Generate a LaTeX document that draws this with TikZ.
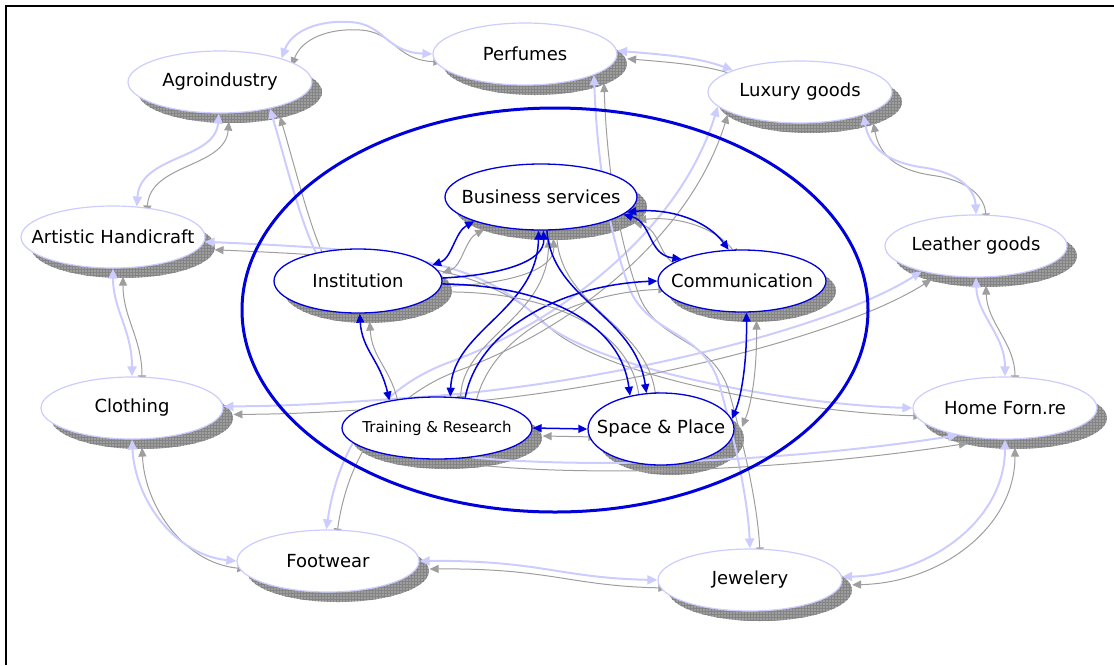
\documentclass[tikz,border=0pt]{standalone}
\usepackage{fontspec}
\setmainfont{DejaVu Sans}
\usetikzlibrary{shapes.geometric,arrows.meta,patterns}
\pgfdeclarelayer{background}
\pgfsetlayers{background,main}
\definecolor{lav}{RGB}{204,204,255}
\definecolor{bl}{RGB}{0,0,220}
\definecolor{shg}{RGB}{158,158,158}
\definecolor{grd}{RGB}{132,132,132}
% #1 node style, #2 text style, #3 name, #4 x, #5 y, #6 width, #7 height, #8 text
\newcommand\nd[8]{%
  \begin{pgfonlayer}{background}
    \fill[shfill] (#4+10,#5+10) ellipse [x radius={#6pt/2}, y radius={#7pt/2}];
  \end{pgfonlayer}
  \node[#1, minimum width=#6pt, minimum height=#7pt] (#3) at (#4,#5) {};
  \node[#2] (#3t) at (#3.center) {#8};}
% #1 extra options, #2 line style, #3 path
\newcommand\cn[3][]{%
  \draw[shln,#1,transform canvas={shift={(10pt,-8pt)}}] #3;
  \draw[#2,#1] #3;}
\begin{document}
\begin{tikzpicture}[x=1pt,y=-1pt,
  outer/.style={ellipse, draw=lav, line width=1.2pt, fill=white, inner sep=0pt},
  inner/.style={ellipse, draw=bl, line width=1.3pt, fill=white, inner sep=0pt},
  bigtxt/.style={font=\fontsize{18}{21}\selectfont, inner sep=0pt},
  smalltxt/.style={font=\fontsize{15}{18}\selectfont, inner sep=0pt},
  shfill/.style={fill=shg, postaction={pattern=grid, pattern color=grd}},
  shln/.style={draw=shg, line width=1pt, >={Triangle[length=9pt,width=8pt]}, <->},
  lavln/.style={draw=lav, line width=2pt, >={Triangle[length=10pt,width=9pt]}, <->},
  blln/.style={draw=bl, line width=1.5pt, >={Triangle[length=9pt,width=8pt]}, <->},
  bigell/.style={draw=bl, line width=3pt}]
\useasboundingbox (0,0) rectangle (1114,665);
\draw[line width=1.5pt] (6,665) -- (6,6) -- (1114,6);
\draw[bigell] (555,310) ellipse [x radius=313pt, y radius=202pt];
% outer nodes
\nd{outer}{bigtxt}{agro}{220}{82}{184}{62}{Agroindustry}
\nd{outer}{bigtxt}{perf}{525}{54}{184}{62}{Perfumes}
\nd{outer}{bigtxt}{lux}{800}{92}{184}{62}{Luxury goods}
\nd{outer}{bigtxt}{leath}{976}{246}{182}{62}{Leather goods}
\nd{outer}{bigtxt}{home}{1005}{408}{184}{62}{Home Forn.re}
\nd{outer}{bigtxt}{jew}{750}{580}{184}{62}{Jewelery}
\nd{outer}{bigtxt}{foot}{328}{561}{182}{62}{Footwear}
\nd{outer}{bigtxt}{cloth}{132}{408}{182}{62}{Clothing}
\nd{outer}{bigtxt}{art}{113}{237}{184}{62}{Artistic Handicraft}
% inner nodes
\nd{inner}{bigtxt}{bs}{541}{197}{192}{66}{Business services}
\nd{inner}{bigtxt}{inst}{358}{281}{168}{64}{Institution}
\nd{inner}{bigtxt}{comm}{742}{281}{168}{62}{Communication}
\nd{inner}{smalltxt}{tr}{437}{428}{190}{62}{Training \& Research}
\nd{inner}{bigtxt}{sp}{661}{429}{146}{72}{Space \& Place}
\begin{pgfonlayer}{background}
% ring
\cn{lavln}{(agro.21) .. controls (292,30) and (320,20) .. (350,22) .. controls (385,24) and (385,52) .. (perf.180)}
\cn{lavln}{(perf.2) .. controls (670,55) and (700,58) .. (lux.162)}
\cn{lavln}{(lux.-20) .. controls (870,150) and (890,162) .. (920,167) .. controls (960,172) and (975,190) .. (leath.90)}
\cn{lavln}{(leath.-90) .. controls (977,315) and (1005,335) .. (home.90)}
\cn{lavln}{(home.-90) .. controls (1005,520) and (930,575) .. (jew.2)}
\cn{lavln}{(jew.180) .. controls (560,578) and (540,560) .. (foot.0)}
\cn{lavln}{(cloth.-90) .. controls (135,500) and (175,555) .. (foot.180)}
\cn{lavln}{(art.-90) .. controls (113,310) and (132,330) .. (cloth.90)}
\cn{lavln}{(agro.-92) .. controls (215,160) and (140,155) .. (art.52)}
% spokes
\cn[<-]{lavln}{(agro.-28) .. controls (288,170) and (300,220) .. (inst.146)}
\cn{lavln}{(art.-3) .. controls (400,250) and (480,260) .. (540,320) .. controls (600,372) and (800,405) .. (home.180)}
\cn{lavln}{(cloth.1) .. controls (300,406) and (350,402) .. (420,397) .. controls (600,385) and (830,330) .. (leath.205)}
\cn{lavln}{(foot.93) .. controls (335,470) and (360,395) .. (450,362) .. controls (560,322) and (680,230) .. (lux.190)}
\cn{lavln}{(perf.-17) .. controls (597,160) and (608,230) .. (630,290) .. controls (650,335) and (700,330) .. (718,380) .. controls (735,440) and (748,500) .. (jew.90)}
\cn[->]{lavln}{(tr.-40) .. controls (600,470) and (800,460) .. (home.210)}
% blue
\cn{blln}{(bs.-10) .. controls (665,208) and (705,218) .. (comm.113)}
\cn{blln}{(bs.-12) .. controls (652,222) and (648,255) .. (comm.160)}
\cn{blln}{(bs.200) .. controls (455,232) and (452,258) .. (inst.12)}
\cn[->]{blln}{(inst.2) .. controls (500,275) and (545,262) .. (bs.-86)}
\cn{blln}{(tr.67) .. controls (453,330) and (537,310) .. (bs.-94)}
\cn[->]{blln}{(tr.47) .. controls (478,330) and (560,285) .. (comm.180)}
\cn[->]{blln}{(inst.-2) .. controls (540,285) and (620,320) .. (sp.133)}
\cn[->]{blln}{(bs.-80) .. controls (552,300) and (635,315) .. (sp.112)}
\cn{blln}{(comm.-82) .. controls (747,360) and (742,395) .. (sp.8)}
\cn{blln}{(tr.0) -- (sp.180)}
\cn{blln}{(inst.-87) .. controls (362,350) and (380,360) .. (tr.150)}
\end{pgfonlayer}
\end{tikzpicture}
\end{document}
